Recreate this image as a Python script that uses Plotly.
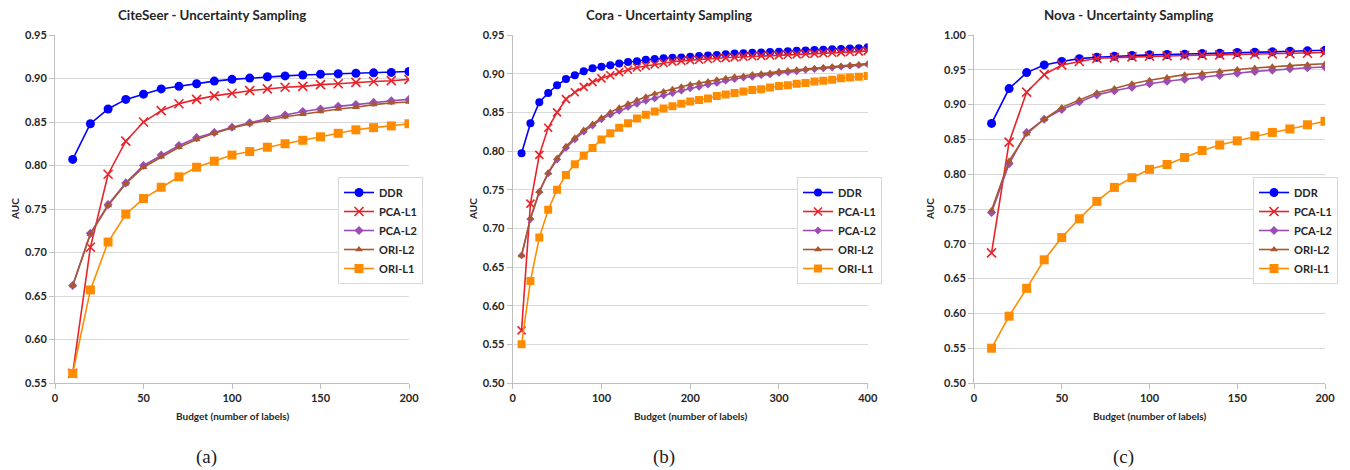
import plotly.graph_objects as go

# ---------------- data ----------------
series_names = ["DDR", "PCA-L1", "PCA-L2", "ORI-L2", "ORI-L1"]

# (a) CiteSeer
cite_x = [10, 20, 30, 40, 50, 60, 70, 80, 90, 100, 110, 120, 130, 140, 150, 160, 170, 180, 190, 200]
cite_ddr = [0.807, 0.848, 0.865, 0.876, 0.882, 0.888, 0.891, 0.894, 0.897, 0.899, 0.9005, 0.902, 0.903, 0.904, 0.905, 0.9055, 0.906, 0.9065, 0.907, 0.908]
cite_pca_l1 = [0.561, 0.706, 0.790, 0.828, 0.850, 0.863, 0.871, 0.876, 0.880, 0.883, 0.886, 0.888, 0.890, 0.891, 0.893, 0.894, 0.8955, 0.8965, 0.8975, 0.899]
cite_pca_l2 = [0.662, 0.722, 0.755, 0.780, 0.800, 0.812, 0.823, 0.832, 0.838, 0.844, 0.849, 0.854, 0.858, 0.862, 0.865, 0.868, 0.870, 0.8725, 0.8745, 0.876]
cite_ori_l2 = [0.662, 0.721, 0.754, 0.779, 0.798, 0.810, 0.821, 0.830, 0.837, 0.843, 0.848, 0.852, 0.856, 0.859, 0.862, 0.865, 0.867, 0.870, 0.872, 0.873]
cite_ori_l1 = [0.561, 0.657, 0.712, 0.744, 0.762, 0.775, 0.787, 0.798, 0.805, 0.812, 0.816, 0.821, 0.825, 0.829, 0.833, 0.837, 0.841, 0.8435, 0.8455, 0.848]

# (b) Cora
cora_x = [10, 20, 30, 40, 50, 60, 70, 80, 90, 100, 110, 120, 130, 140, 150, 160, 170, 180, 190, 200,
          210, 220, 230, 240, 250, 260, 270, 280, 290, 300, 310, 320, 330, 340, 350, 360, 370, 380, 390, 400]
cora_ddr = [0.797, 0.836, 0.863, 0.875, 0.885, 0.893, 0.898, 0.903, 0.907, 0.909, 0.911, 0.913, 0.915, 0.916, 0.918, 0.919, 0.920, 0.9205, 0.921, 0.922,
            0.923, 0.9235, 0.924, 0.925, 0.926, 0.9265, 0.927, 0.9275, 0.928, 0.9285, 0.929, 0.9295, 0.930, 0.9305, 0.931, 0.9315, 0.932, 0.9325, 0.933, 0.934]
cora_pca_l1 = [0.568, 0.732, 0.795, 0.830, 0.850, 0.867, 0.876, 0.883, 0.889, 0.894, 0.898, 0.902, 0.905, 0.908, 0.910, 0.912, 0.914, 0.9155, 0.9165, 0.9175,
               0.918, 0.919, 0.920, 0.9205, 0.921, 0.922, 0.9225, 0.923, 0.9235, 0.924, 0.9245, 0.925, 0.9255, 0.926, 0.9265, 0.927, 0.9275, 0.928, 0.9285, 0.9295]
cora_pca_l2 = [0.665, 0.712, 0.747, 0.771, 0.789, 0.804, 0.815, 0.825, 0.833, 0.841, 0.847, 0.852, 0.857, 0.861, 0.865, 0.868, 0.872, 0.875, 0.878, 0.881,
               0.883, 0.886, 0.888, 0.891, 0.893, 0.895, 0.896, 0.898, 0.899, 0.901, 0.902, 0.903, 0.905, 0.906, 0.907, 0.908, 0.909, 0.910, 0.911, 0.912]
cora_ori_l2 = [0.665, 0.713, 0.748, 0.772, 0.791, 0.806, 0.817, 0.827, 0.835, 0.843, 0.850, 0.856, 0.861, 0.866, 0.870, 0.874, 0.877, 0.880, 0.883, 0.886,
               0.888, 0.890, 0.892, 0.894, 0.896, 0.897, 0.899, 0.900, 0.901, 0.903, 0.904, 0.905, 0.906, 0.907, 0.908, 0.909, 0.910, 0.911, 0.912, 0.913]
cora_ori_l1 = [0.550, 0.632, 0.688, 0.724, 0.750, 0.769, 0.783, 0.794, 0.804, 0.815, 0.823, 0.830, 0.836, 0.842, 0.847, 0.851, 0.855, 0.858, 0.861, 0.864,
               0.866, 0.868, 0.871, 0.873, 0.875, 0.877, 0.879, 0.880, 0.882, 0.884, 0.885, 0.887, 0.888, 0.890, 0.891, 0.892, 0.894, 0.895, 0.896, 0.897]

# (c) Nova
nova_x = [10, 20, 30, 40, 50, 60, 70, 80, 90, 100, 110, 120, 130, 140, 150, 160, 170, 180, 190, 200]
nova_ddr = [0.873, 0.923, 0.946, 0.957, 0.962, 0.966, 0.968, 0.9695, 0.9705, 0.9715, 0.972, 0.9725, 0.9733, 0.9738, 0.9748, 0.9753, 0.9758, 0.9767, 0.9772, 0.978]
nova_pca_l1 = [0.687, 0.846, 0.918, 0.943, 0.957, 0.962, 0.9665, 0.9675, 0.9685, 0.9695, 0.970, 0.9705, 0.971, 0.9715, 0.972, 0.9724, 0.9729, 0.9733, 0.9738, 0.9748]
nova_pca_l2 = [0.745, 0.815, 0.860, 0.879, 0.893, 0.904, 0.914, 0.920, 0.925, 0.930, 0.9335, 0.9365, 0.940, 0.942, 0.945, 0.9477, 0.9496, 0.9516, 0.953, 0.954]
nova_ori_l2 = [0.748, 0.819, 0.858, 0.879, 0.896, 0.907, 0.917, 0.923, 0.930, 0.935, 0.939, 0.943, 0.945, 0.948, 0.9505, 0.9525, 0.9545, 0.956, 0.9574, 0.9588]
nova_ori_l1 = [0.550, 0.596, 0.636, 0.677, 0.709, 0.736, 0.761, 0.781, 0.795, 0.807, 0.814, 0.824, 0.834, 0.842, 0.848, 0.855, 0.860, 0.865, 0.871, 0.876]

panel_titles = ["CiteSeer - Uncertainty Sampling", "Cora - Uncertainty Sampling", "Nova - Uncertainty Sampling"]
panel_captions = ["(a)", "(b)", "(c)"]
x_title = "Budget (number of labels)"
y_title = "AUC"

# ---------------- styling ----------------
FONT = "Lato"
W, H = 1350, 470
colors = ["#0000FF", "#E8232A", "#9A4DB3", "#A8582E", "#FF8C00"]
symbols = ["circle", "x-thin", "diamond", "triangle-up", "square"]

panels = [
    dict(x=cite_x, ys=[cite_ddr, cite_pca_l1, cite_pca_l2, cite_ori_l2, cite_ori_l1],
         px=(55, 409), xr=[0, 200], dx=50, yr=[0.55, 0.95], msz=[9, 9, 7, 7, 9]),
    dict(x=cora_x, ys=[cora_ddr, cora_pca_l1, cora_pca_l2, cora_ori_l2, cora_ori_l1],
         px=(512.7, 867.7), xr=[0, 400], dx=100, yr=[0.50, 0.95], msz=[8, 8, 6, 7, 8]),
    dict(x=nova_x, ys=[nova_ddr, nova_pca_l1, nova_pca_l2, nova_ori_l2, nova_ori_l1],
         px=(974, 1325), xr=[0, 200], dx=50, yr=[0.50, 1.00], msz=[9, 9, 7, 7, 9]),
]
legend_right = [423, 882, 1338]
legend_top_px = 177
y_top_px, y_bot_px = 35, 383
title_y_px = 15
title_x_px = [212, 669, 1128]
xtitle_y_px = 416
caption_y_px = 457
auc_x_px = [15, 473, 930]

fig = go.Figure()
layout_updates = {}
annotations = []

for i, p in enumerate(panels):
    k = "" if i == 0 else str(i + 1)
    legname = "legend" if i == 0 else f"legend{i+1}"
    for j, name in enumerate(series_names):
        fig.add_trace(go.Scatter(
            x=p["x"], y=p["ys"][j], name=name, mode="lines+markers",
            xaxis="x" + k, yaxis="y" + k, legend=legname,
            line=dict(color=colors[j], width=1.6),
            marker=dict(symbol=symbols[j], size=p["msz"][j], color=colors[j],
                        line=dict(width=1.6 if symbols[j] == "x-thin" else 0, color=colors[j])),
        ))
    x0 = p["px"][0] / W
    x1 = p["px"][1] / W
    layout_updates["xaxis" + k] = dict(
        domain=[x0, x1], range=p["xr"], dtick=p["dx"], tick0=0, anchor="y" + k,
        automargin=False,
        showgrid=False, zeroline=False, showline=True, linecolor="#BFBFBF", linewidth=1,
        ticks="outside", ticklen=5, tickcolor="#BFBFBF",
        tickfont=dict(family=FONT, size=11, color="#262626", weight="bold"),
    )
    layout_updates["yaxis" + k] = dict(
        domain=[1 - y_bot_px / H, 1 - y_top_px / H], range=p["yr"], dtick=0.05, tick0=0.5,
        anchor="x" + k, tickformat=".2f", automargin=False,
        showgrid=True, gridcolor="#D9D9D9", gridwidth=1, zeroline=False,
        showline=True, linecolor="#BFBFBF", linewidth=1,
        ticks="outside", ticklen=5, tickcolor="#BFBFBF",
        tickfont=dict(family=FONT, size=11, color="#262626", weight="bold"),
    )
    layout_updates[legname] = dict(
        x=legend_right[i] / W, y=1 - legend_top_px / H, xanchor="right", yanchor="top",
        bgcolor="white", bordercolor="#D9D9D9", borderwidth=1,
        font=dict(family=FONT, size=11, color="#262626", weight="bold"),
        itemwidth=30, tracegroupgap=0,
    )
    xc = (x0 + x1) / 2
    annotations.append(dict(text=panel_titles[i], x=title_x_px[i] / W, y=1 - title_y_px / H,
                            xref="paper", yref="paper",
                            showarrow=False, xanchor="center", yanchor="middle",
                            font=dict(family=FONT, size=13.3, color="#262626", weight="bold")))
    annotations.append(dict(text=x_title, x=xc, y=1 - xtitle_y_px / H, xref="paper", yref="paper",
                            showarrow=False, xanchor="center", yanchor="middle",
                            font=dict(family=FONT, size=10, color="#262626", weight="bold")))
    annotations.append(dict(text=y_title, x=auc_x_px[i] / W, y=1 - (y_top_px + y_bot_px) / 2 / H,
                            xref="paper", yref="paper", textangle=-90,
                            showarrow=False, xanchor="center", yanchor="middle",
                            font=dict(family=FONT, size=10, color="#262626", weight="bold")))
    caption_x = [207, 664, 1123][i]
    annotations.append(dict(text=panel_captions[i], x=caption_x / W, y=1 - caption_y_px / H,
                            xref="paper", yref="paper",
                            showarrow=False, xanchor="center", yanchor="middle",
                            font=dict(family="Liberation Serif", size=19, color="#222222")))

fig.update_layout(
    width=W, height=H, margin=dict(l=0, r=0, t=0, b=0, autoexpand=False),
    paper_bgcolor="white", plot_bgcolor="white",
    showlegend=True, annotations=annotations,
    **layout_updates,
)

fig.write_html("out.html")
